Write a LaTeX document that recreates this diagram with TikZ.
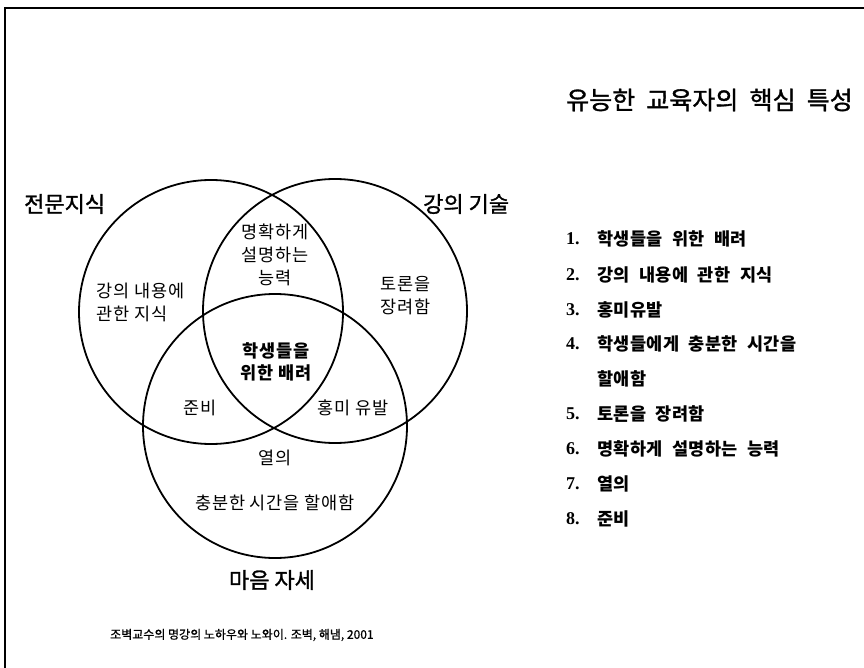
\documentclass[tikz,border=0pt]{standalone}
\usepackage{fontspec}
\setmainfont{Liberation Serif}
\newfontfamily\kr{Noto Sans CJK KR}[LetterSpace=5]
\newfontfamily\krm{Noto Sans CJK KR}[FakeBold=1.3]
\newfontfamily\krl{Noto Sans CJK KR}[WordSpace=2.2,LetterSpace=2]
\newfontfamily\krc{Noto Sans CJK KR}[FakeBold=0.8]
\begin{document}
\begin{tikzpicture}[x=1pt,y=-1pt,
  venn/.style={circle,draw,line width=1.8pt,minimum size=264pt,inner sep=0pt},
  setlabel/.style={font=\krm\fontsize{22}{24}\selectfont,inner sep=0pt},
  inlabel/.style={font=\kr\fontsize{17.5}{23}\selectfont,inner sep=0pt,align=center},
  numlabel/.style={font=\bfseries\fontsize{18}{20}\selectfont,inner sep=0pt,anchor=west},
  itemlabel/.style={font=\krl\bfseries\fontsize{17.5}{20}\selectfont,inner sep=0pt,anchor=west}]
\useasboundingbox (0,0) rectangle (864,668);
\fill[white] (0,0) rectangle (864,668);
\draw[line width=1.5pt] (5,668) -- (5,8) -- (864,8);
% circles
\node[venn] (L) at (211,312) {};
\node[venn] (R) at (335,311) {};
\node[venn] (B) at (275,426) {};
% title
\node[font=\krm\fontsize{25}{27}\selectfont,inner sep=0pt,anchor=west] (title) at (566,100) {유능한\ \ 교육자의\ \ 핵심\ \ 특성};
% set labels
\node[setlabel,anchor=west] (sL) at (24,204) {전문지식};
\node[setlabel,anchor=west] (sR) at (423,204) {강의 기술};
\node[setlabel] (sB) at (272,580) {마음 자세};
% region labels
\node[inlabel] (ab) at (275,255) {명확하게\\설명하는\\능력};
\node[inlabel,align=left,anchor=west] (a) at (96,302) {강의 내용에\\관한 지식};
\node[inlabel] (b) at (406,296) {토론을\\장려함};
\node[inlabel,font=\kr\bfseries\fontsize{17.5}{22}\selectfont] (abc) at (276,362) {학생들을\\위한 배려};
\node[inlabel] (ac) at (200,408) {준비};
\node[inlabel] (bc) at (353,408) {홍미 유발};
\node[inlabel] (c1) at (275,458) {열의};
\node[inlabel] (c2) at (275,503) {충분한 시간을 할애함};
% list
\node[numlabel] (n1) at (566,239) {1.};
\node[itemlabel] (t1) at (597,239) {학생들을 위한 배려};
\node[numlabel] (n2) at (566,275) {2.};
\node[itemlabel] (t2) at (597,275) {강의 내용에 관한 지식};
\node[numlabel] (n3) at (566,310) {3.};
\node[itemlabel] (t3) at (597,310) {홍미유발};
\node[numlabel] (n4) at (566,344) {4.};
\node[itemlabel] (t4) at (597,344) {학생들에게 충분한 시간을};
\node[itemlabel] (t4b) at (597,379) {할애함};
\node[numlabel] (n5) at (566,414) {5.};
\node[itemlabel] (t5) at (597,414) {토론을 장려함};
\node[numlabel] (n6) at (566,449) {6.};
\node[itemlabel] (t6) at (597,449) {명확하게 설명하는 능력};
\node[numlabel] (n7) at (566,484) {7.};
\node[itemlabel] (t7) at (597,484) {열의};
\node[numlabel] (n8) at (566,519) {8.};
\node[itemlabel] (t8) at (597,519) {준비};
% caption
\node[font=\krc\fontsize{12}{14}\selectfont,inner sep=0pt,anchor=west] (cap) at (110,635) {조벽교수의 명강의 노하우와 노와이. 조벽, 해냄, 2001};
\end{tikzpicture}
\end{document}
